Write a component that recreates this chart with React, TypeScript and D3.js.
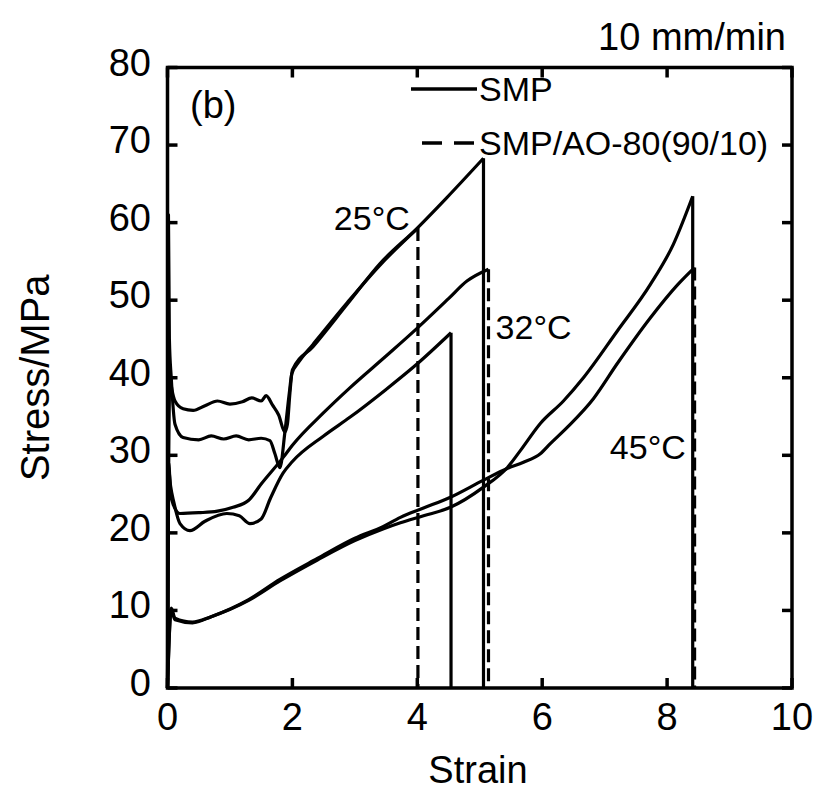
import React from "react";
import * as d3 from "d3";

const xTicks = [0, 2, 4, 6, 8, 10];
const yTicks = [0, 10, 20, 30, 40, 50, 60, 70, 80];

// SMP (solid) and SMP/AO-80(90/10) (dashed) stress-strain curves, [strain, stress]
const smp25: [number, number][] = [
  [0, 0], [0.02, 30], [0.04, 40], [0.07, 38.5], [0.12, 37], [0.25, 36], [0.41, 35.8],
  [0.6, 36.4], [0.8, 37], [1.0, 36.6], [1.2, 36.9], [1.35, 37.4], [1.5, 37], [1.58, 37.7],
  [1.68, 36.5], [1.78, 35.2], [1.88, 33], [1.92, 34], [1.96, 38], [2.0, 41], [2.33, 44],
  [2.88, 49.5], [3.4, 54.7], [4.0, 59.3], [4.47, 63.2], [5.06, 68.3], [5.06, 0],
];
const ao25: [number, number][] = [
  [0, 0], [0.015, 61], [0.03, 45], [0.06, 40], [0.12, 34], [0.25, 32.3], [0.5, 32],
  [0.7, 32.5], [0.9, 32.1], [1.1, 32.5], [1.3, 32], [1.5, 32.2], [1.64, 31.9], [1.72, 30.2],
  [1.8, 28.4], [1.88, 33], [1.95, 38], [1.99, 40.5], [2.1, 42], [2.33, 44.3], [2.88, 49.7],
  [3.4, 54.5], [4.01, 59.3], [4.01, 0],
];
const smp32: [number, number][] = [
  [0, 0], [0.02, 28], [0.05, 26], [0.1, 24], [0.2, 21.2], [0.36, 20.3], [0.6, 21.5],
  [0.95, 22.5], [1.15, 22.2], [1.32, 21.2], [1.5, 21.8], [1.65, 24.5], [1.85, 27.7],
  [2.0, 29.2], [2.5, 32.5], [2.92, 34.9], [3.5, 38.5], [4.0, 41.8], [4.54, 45.8], [4.54, 0],
];
const ao32: [number, number][] = [
  [0, 0], [0.02, 29], [0.05, 25], [0.1, 23.5], [0.2, 22.5], [0.5, 22.6], [0.8, 22.8],
  [1.05, 23.3], [1.3, 24.2], [1.5, 26.3], [1.85, 29.7], [2.0, 31.3], [2.5, 35.5],
  [2.92, 38.7], [3.5, 42.8], [4.0, 46.4], [4.5, 50.2], [4.8, 52.5], [5.14, 54], [5.14, 0],
];
const smp45: [number, number][] = [
  [0, 0], [0.06, 10.3], [0.12, 9], [0.4, 8.5], [0.7, 9.2], [1.3, 11.3], [1.8, 13.8],
  [2.4, 16.5], [3.0, 19], [3.45, 20.5], [3.73, 21.3], [4.1, 22.2], [4.53, 23.3],
  [5.06, 25.9], [5.44, 28.4], [5.65, 30.6], [5.97, 34.1], [6.34, 37], [6.66, 40],
  [7.2, 46], [7.73, 52], [8.1, 57.2], [8.41, 63.4], [8.41, 0],
];
const ao45: [number, number][] = [
  [0, 0], [0.06, 10], [0.12, 8.8], [0.4, 8.4], [0.7, 9.2], [1.3, 11.4], [1.8, 14],
  [2.4, 16.7], [3.0, 19.3], [3.45, 20.8], [3.73, 22], [4.1, 23.2], [4.53, 24.6],
  [5.06, 26.8], [5.44, 28.3], [5.7, 29.1], [5.97, 30.2], [6.13, 31.5], [6.4, 33.6],
  [6.82, 37.3], [7.2, 41.8], [7.73, 47.7], [8.17, 52], [8.44, 54.2], [8.44, 0],
];

const seriesNames = ["SMP", "SMP/AO-80(90/10)"];
const curves = [
  { data: smp25, dashed: false },
  { data: ao25, dashed: true },
  { data: smp32, dashed: false },
  { data: ao32, dashed: true },
  { data: smp45, dashed: false },
  { data: ao45, dashed: true },
];
const tempLabels = [
  { text: "25°C", x: 3.88, y: 59.1 },
  { text: "32°C", x: 6.47, y: 45 },
  { text: "45°C", x: 8.3, y: 29.5 },
];

const W = 819;
const H = 794;
const FONT = "'Liberation Sans', Arial, Helvetica, sans-serif";

export default function App() {
  const x = d3.scaleLinear().domain([0, 10]).range([167.5, 792]);
  const y = d3.scaleLinear().domain([0, 80]).range([688, 67.5]);
  const smooth = d3
    .line<[number, number]>()
    .x((d) => x(d[0]))
    .y((d) => y(d[1]))
    .curve(d3.curveMonotoneX);
  const straight = d3
    .line<[number, number]>()
    .x((d) => x(d[0]))
    .y((d) => y(d[1]));
  const tick = 10;
  const lw = 3.2;
  const dash = "13,6";

  return (
    <svg
      width={W}
      height={H}
      style={{ position: "absolute", left: 0, top: 0, background: "#fff" }}
      fontFamily={FONT}
    >
      <rect x={0} y={0} width={W} height={H} fill="#fff" />
      {/* curves */}
      {curves.map((c, i) => {
        const body = c.data.slice(0, c.data.length - 1);
        const drop = c.data.slice(c.data.length - 2);
        return (
          <g key={i} fill="none" stroke="#000" strokeWidth={lw} strokeLinejoin="round">
            <path d={smooth(body) || ""} />
            <path d={straight(drop) || ""} strokeDasharray={c.dashed ? dash : undefined} />
          </g>
        );
      })}
      {/* frame */}
      <rect
        x={x(0)}
        y={y(80)}
        width={x(10) - x(0)}
        height={y(0) - y(80)}
        fill="none"
        stroke="#000"
        strokeWidth={3.5}
      />
      {/* ticks */}
      {xTicks.map((t) => (
        <g key={"xt" + t} stroke="#000" strokeWidth={3.5}>
          <line x1={x(t)} x2={x(t)} y1={y(0)} y2={y(0) - tick} />
          <line x1={x(t)} x2={x(t)} y1={y(80)} y2={y(80) + tick} />
        </g>
      ))}
      {yTicks.map((t) => (
        <g key={"yt" + t} stroke="#000" strokeWidth={3.5}>
          <line x1={x(0)} x2={x(0) + tick} y1={y(t)} y2={y(t)} />
          <line x1={x(10)} x2={x(10) - tick} y1={y(t)} y2={y(t)} />
        </g>
      ))}
      {/* tick labels */}
      {xTicks.map((t) => (
        <text key={"xl" + t} x={x(t)} y={730} textAnchor="middle" fontSize={38}>
          {t}
        </text>
      ))}
      {yTicks.map((t) => (
        <text
          key={"yl" + t}
          x={151}
          y={y(t) + 8}
          textAnchor="end"
          fontSize={38}
        >
          {t}
        </text>
      ))}
      {/* axis titles */}
      <text x={478} y={783} textAnchor="middle" fontSize={38}>
        Strain
      </text>
      <text
        transform={`translate(49,${y(40)}) rotate(-90)`}
        textAnchor="middle"
        fontSize={40}
      >
        Stress/MPa
      </text>
      <text x={786} y={50} textAnchor="end" fontSize={38}>
        10 mm/min
      </text>
      <text x={190} y={118} fontSize={38}>
        (b)
      </text>
      {/* legend */}
      <g stroke="#000" strokeWidth={3.5}>
        <line x1={411} x2={477} y1={89} y2={89} />
        <line x1={422} x2={476} y1={143} y2={143} strokeDasharray="20,12" />
      </g>
      <text x={479} y={101} fontSize={34}>
        {seriesNames[0]}
      </text>
      <text x={479} y={155} fontSize={34}>
        {seriesNames[1]}
      </text>
      {/* temperature labels */}
      {tempLabels.map((l) => (
        <text key={l.text} x={x(l.x)} y={y(l.y)} fontSize={34} textAnchor="end">
          {l.text}
        </text>
      ))}
    </svg>
  );
}
